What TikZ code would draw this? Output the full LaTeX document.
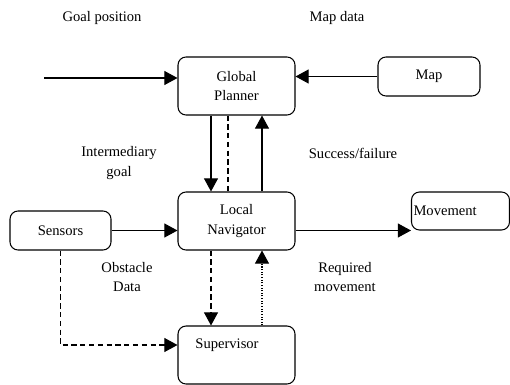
\documentclass[tikz,border=0pt]{standalone}
\usepackage{fontspec}
\setmainfont{Liberation Serif}
\usetikzlibrary{arrows.meta,calc}
\tikzset{
  block/.style={draw, line width=0.6pt, rounded corners=0.16cm, inner sep=1pt, align=center},
  arr/.style={line width=0.6pt, -{Triangle[length=7.5pt,width=8pt]}},
  dashline/.style={line width=0.6pt, dash pattern=on 3pt off 2pt},
  dotline/.style={line width=0.6pt, dash pattern=on 0.6pt off 0.9pt},
  lbl/.style={align=center, inner sep=0pt}
}
\begin{document}
\begin{tikzpicture}[x=0.02cm, y=-0.02cm, font=\fontsize{8.3}{11}\selectfont]
        \useasboundingbox (0,0) rectangle (510,385);
        % boxes
        \node[block, minimum width=2.34cm, minimum height=1.16cm] (gp) at (236.5,86) {Global\\Planner};
        \node[block, minimum width=2.04cm, minimum height=0.78cm] (map) at (429,76.5) {Map};
        \node[block, minimum width=2.34cm, minimum height=1.16cm] (ln) at (236.5,221) {Local\\Navigator};
        \node[block, minimum width=2.02cm, minimum height=0.78cm] (sens) at (60.5,230.5) {Sensors};
        \node[block, minimum width=1.96cm, minimum height=0.76cm, text width=1.88cm, align=left] (move) at (460.5,211) {Movement};
        \node[block, minimum width=2.34cm, minimum height=1.16cm] (sup) at (236.5,355) {};
        \node[lbl] (suptext) at (227,345) {Supervisor};
        % labels
        \node[lbl] (goallbl) at (102,18) {Goal position};
        \node[lbl] (maplbl) at (337,18) {Map data};
        \node[lbl] (interlbl) at (119,163) {Intermediary\\goal};
        \node[lbl] (succlbl) at (353,153) {Success/failure};
        \node[lbl] (obstlbl) at (127,277) {Obstacle\\Data};
        \node[lbl] (reqlbl) at (345,277) {Required\\movement};
        % connectors
        \coordinate (goalin) at (44,78);
        \draw[arr] (goalin) -- (goalin -| gp.west);
        \draw[arr] (map.west) -- (map.west -| gp.east);
        \draw[arr] ($(gp.south)+(-25.5,0)$) -- ($(ln.north)+(-25.5,0)$);
        \draw[dashline] ($(gp.south)+(-8.5,0)$) -- ($(ln.north)+(-8.5,0)$);
        \draw[arr] ($(ln.north)+(25.5,0)$) -- ($(gp.south)+(25.5,0)$);
        \draw[arr] (sens.east) -- (sens.east -| ln.west);
        \draw[arr] (ln.east |- sens.east) -- (ln.east |- sens.east -| move.west);
        \draw[arr, dashline] ($(ln.south)+(-25.5,0)$) -- ($(sup.north)+(-25.5,0)$);
        \draw[arr, dotline] ($(sup.north)+(25.5,0)$) -- ($(ln.south)+(25.5,0)$);
        \draw[arr, dashline] (sens.south) |- (sup.west |- suptext);
\end{tikzpicture}
\end{document}
